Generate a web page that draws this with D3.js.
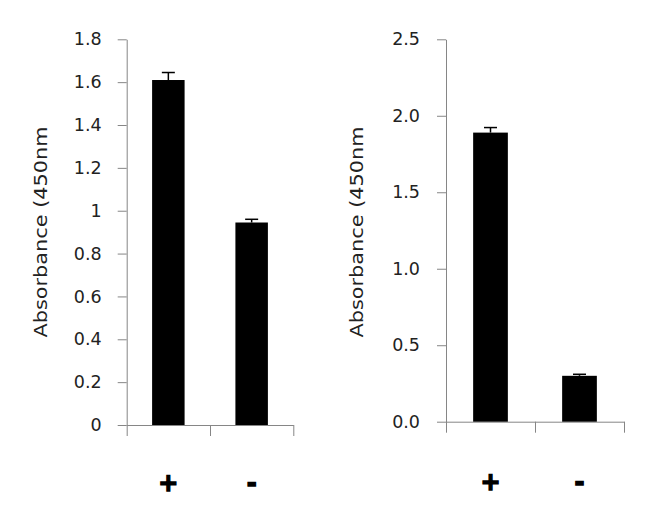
<!DOCTYPE html>
<html>
<head>
<meta charset="utf-8">
<script src="https://cdn.jsdelivr.net/npm/d3@7"></script>
<style>
  html, body { margin: 0; padding: 0; background: #fff; }
  svg { display: block; }
</style>
</head>
<body>
<svg id="chart" width="650" height="513"></svg>
<script>
// ---- data ----
const categories = ["+", "-"];
const leftValues = [1.61, 0.945];
const leftErrors = [0.035, 0.015];
const leftTicks = [0, 0.2, 0.4, 0.6, 0.8, 1, 1.2, 1.4, 1.6, 1.8];
const leftTickLabels = ["0", "0.2", "0.4", "0.6", "0.8", "1", "1.2", "1.4", "1.6", "1.8"];
const rightValues = [1.89, 0.30];
const rightErrors = [0.033, 0.01];
const rightTicks = [0, 0.5, 1.0, 1.5, 2.0, 2.5];
const rightTickLabels = ["0.0", "0.5", "1.0", "1.5", "2.0", "2.5"];
const yTitle = "Absorbance (450nm";

const svg = d3.select("#chart");
const axisColor = "#868686";
const textColor = "#222";

function panel(cfg) {
  const g = svg.append("g");
  const y = d3.scaleLinear().domain([0, cfg.max]).range([cfg.y0, cfg.y1]);
  const xBand = d3.scaleBand().domain(categories).range([cfg.x0, cfg.x1]).padding(0);
  const xLin = d3.scaleLinear().domain([0, categories.length]).range([cfg.x0, cfg.x1]);

  // y axis
  const yAxis = d3.axisLeft(y)
    .tickValues(cfg.ticks)
    .tickFormat((d, i) => cfg.labels[i])
    .tickSize(9).tickSizeOuter(0).tickPadding(cfg.pad);
  const ya = g.append("g").attr("transform", `translate(${cfg.x0},0)`).call(yAxis);
  ya.selectAll("path, line").attr("stroke", axisColor);
  ya.selectAll("text").attr("fill", textColor)
    .style("font-family", "'DejaVu Sans', sans-serif").style("font-size", "17.5px");

  // x axis
  const xAxis = d3.axisBottom(xLin).tickValues(d3.range(categories.length + 1))
    .tickFormat("").tickSize(11).tickSizeOuter(0);
  const xa = g.append("g").attr("transform", `translate(0,${cfg.y0})`).call(xAxis);
  xa.selectAll("path, line").attr("stroke", axisColor);

  // bars
  const bw = xBand.bandwidth() * 0.39;
  g.selectAll("rect.bar").data(cfg.values).enter().append("rect")
    .attr("x", (d, i) => xBand(categories[i]) + xBand.bandwidth() / 2 - bw / 2)
    .attr("y", d => y(d))
    .attr("width", bw)
    .attr("height", d => y(0) - y(d))
    .attr("fill", "#000");

  // error bars
  cfg.values.forEach((v, i) => {
    const cx = xBand(categories[i]) + xBand.bandwidth() / 2;
    const top = y(v + cfg.errors[i]);
    g.append("line").attr("x1", cx).attr("x2", cx).attr("y1", y(v)).attr("y2", top)
      .attr("stroke", "#000").attr("stroke-width", 1.5);
    g.append("line").attr("x1", cx - 6.5).attr("x2", cx + 6.5).attr("y1", top).attr("y2", top)
      .attr("stroke", "#000").attr("stroke-width", 1.5);
  });

  // category labels
  g.selectAll("text.cat").data(categories).enter().append("text")
    .attr("x", d => xBand(d) + xBand.bandwidth() / 2)
    .attr("y", cfg.catY)
    .attr("text-anchor", "middle")
    .attr("fill", "#000")
    .attr("stroke", "#000")
    .attr("stroke-width", 1.4)
    .style("font-family", "'DejaVu Sans', sans-serif")
    .style("font-weight", "bold")
    .style("font-size", "24px")
    .text(d => d);

  // y title
  g.append("text")
    .attr("transform", `translate(${cfg.titleX},232) rotate(-90)`)
    .attr("text-anchor", "middle")
    .attr("fill", textColor)
    .attr("textLength", 211)
    .attr("lengthAdjust", "spacingAndGlyphs")
    .style("font-family", "'DejaVu Sans', sans-serif")
    .style("font-size", "18px")
    .text(yTitle);
}

panel({ x0: 126.7, x1: 293.3, y0: 425, y1: 39.3, max: 1.8,
        values: leftValues, errors: leftErrors, ticks: leftTicks, labels: leftTickLabels,
        pad: 16, titleX: 47, catY: 491 });
panel({ x0: 446, x1: 624, y0: 421.7, y1: 39.3, max: 2.5,
        values: rightValues, errors: rightErrors, ticks: rightTicks, labels: rightTickLabels,
        pad: 17, titleX: 363, catY: 490 });
</script>
</body>
</html>
